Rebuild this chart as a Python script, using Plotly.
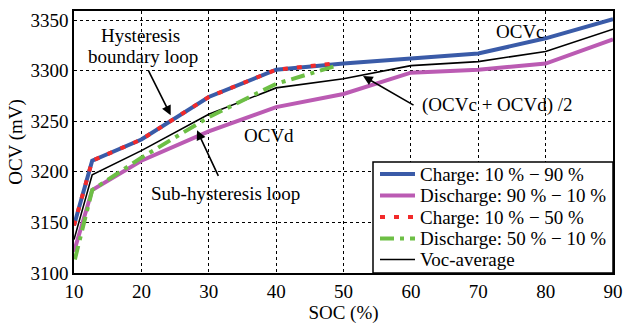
import plotly.graph_objects as go

# ---------------- data ----------------
soc_full = [10, 12.7, 20, 30, 40, 50, 60, 70, 80, 90]
ocv_charge_full = [3147, 3211, 3232, 3274, 3301, 3307, 3312, 3317, 3332, 3351]
ocv_discharge_full = [3121, 3182, 3211, 3240, 3264, 3277, 3298, 3301, 3307, 3331]
ocv_average = [3133, 3197, 3221, 3257, 3283, 3292, 3305, 3309, 3319, 3341]

soc_sub_charge = [10, 12.7, 20, 30, 40, 48.5]
ocv_sub_charge = [3147, 3211, 3232, 3274, 3301, 3307]
soc_sub_discharge = [48.5, 40, 30, 20, 12.7, 10]
ocv_sub_discharge = [3304, 3287, 3254, 3214, 3182, 3110]

legend_labels = ["Charge: 10 % − 90 %", "Discharge: 90 % − 10 %",
                 "Charge: 10 % − 50 %", "Discharge: 50 % − 10 %", "Voc-average"]
x_ticks = [10, 20, 30, 40, 50, 60, 70, 80, 90]
y_ticks = [3100, 3150, 3200, 3250, 3300, 3350]

FONT = "Liberation Serif, Times New Roman, serif"
BLUE = "#3a5ba8"
MAGENTA = "#bb5bb3"
RED = "#f22a2a"
GREEN = "#6dbf45"
BLACK = "#000000"

styles = [
    dict(color=BLUE, width=4, dash="solid"),
    dict(color=MAGENTA, width=4, dash="solid"),
    dict(color=RED, width=4, dash="5px,9px"),
    dict(color=GREEN, width=4, dash="14px,6px,4px,6px"),
    dict(color=BLACK, width=1.6, dash="solid"),
]

fig = go.Figure()
fig.add_trace(go.Scatter(x=soc_full, y=ocv_charge_full, mode="lines", line=styles[0],
                         name=legend_labels[0], showlegend=False))
fig.add_trace(go.Scatter(x=soc_full, y=ocv_discharge_full, mode="lines", line=styles[1],
                         name=legend_labels[1], showlegend=False))
fig.add_trace(go.Scatter(x=soc_full, y=ocv_average, mode="lines", line=styles[4],
                         name=legend_labels[4], showlegend=False))
fig.add_trace(go.Scatter(x=soc_sub_discharge, y=ocv_sub_discharge, mode="lines", line=styles[3],
                         name=legend_labels[3], showlegend=False))
fig.add_trace(go.Scatter(x=soc_sub_charge, y=ocv_sub_charge, mode="lines", line=styles[2],
                         name=legend_labels[2], showlegend=False))

# ---------------- layout ----------------
L, R, T, B = 74, 10, 11, 51
W, H = 623, 324
pw, ph = W - L - R, H - T - B


def px(xp):
    return (xp - L) / pw


def py(yp):
    return 1 - (yp - T) / ph


annotations = []
shapes = []

# legend box (manual, compact like the reference)
shapes.append(dict(type="rect", xref="paper", yref="paper",
                   x0=px(373), x1=px(613), y0=py(273), y1=py(162),
                   line=dict(color="black", width=1.5), fillcolor="white", layer="above"))
entry_y = [174, 195.5, 217, 238.5, 259.5]
for lab, st, yy in zip(legend_labels, styles, entry_y):
    shapes.append(dict(type="line", xref="paper", yref="paper",
                       x0=px(380), x1=px(415), y0=py(yy), y1=py(yy),
                       line=dict(color=st["color"], width=st["width"], dash=st["dash"]),
                       layer="above"))
    annotations.append(dict(text=lab, xref="paper", yref="paper", x=px(418), y=py(yy),
                            xanchor="left", yanchor="middle", showarrow=False,
                            font=dict(family=FONT, size=19, color="black")))

afont = dict(family=FONT, size=19, color="black")
arrow = dict(showarrow=True, arrowhead=2, arrowsize=1.2, arrowwidth=1.6, arrowcolor="black",
             text="", xref="x", yref="y")
lbl = dict(xref="paper", yref="paper", showarrow=False, font=afont,
           xanchor="center", yanchor="middle")
annotations += [
    # text labels
    dict(text="Hysteresis", x=px(140), y=py(35), **lbl),
    dict(text="boundary loop", x=px(143), y=py(57), **lbl),
    dict(text="Sub-hysteresis loop", x=px(225), y=py(193), **lbl),
    dict(text="OCVd", x=px(269), y=py(135), **lbl),
    dict(text="OCVc", x=px(520), y=py(32), **lbl),
    dict(text="(OCVc + OCVd) /2", x=px(497), y=py(105), **lbl),
    # arrows
    dict(x=24.35, y=3256, ax=-23, ay=-46, **arrow),
    dict(x=28.26, y=3241, ax=22, ay=47, **arrow),
    dict(x=52.9, y=3294.7, ax=52, ay=30, **arrow),
]

fig.update_layout(
    width=W, height=H,
    margin=dict(l=L, r=R, t=T, b=B, pad=0, autoexpand=False),
    paper_bgcolor="white", plot_bgcolor="white",
    font=dict(family=FONT, size=19, color="black"),
    showlegend=False,
    annotations=annotations,
    shapes=shapes,
)
fig.update_xaxes(range=[10, 90], tickvals=x_ticks, ticks="", showline=True, mirror=True,
                 linecolor="black", linewidth=1.5, showgrid=True, gridcolor="black",
                 gridwidth=1, griddash="dot", zeroline=False, automargin=False,
                 title=dict(text="SOC (%)", standoff=2, font=dict(family=FONT, size=19)),
                 tickfont=dict(family=FONT, size=19))
fig.update_yaxes(range=[3100, 3359], tickvals=y_ticks, ticks="", showline=True, mirror=True,
                 linecolor="black", linewidth=1.5, showgrid=True, gridcolor="black",
                 gridwidth=1, griddash="dot", zeroline=False, automargin=False,
                 title=dict(text="OCV (mV)", standoff=3, font=dict(family=FONT, size=19)),
                 tickfont=dict(family=FONT, size=19))

fig.write_html("out.html")
